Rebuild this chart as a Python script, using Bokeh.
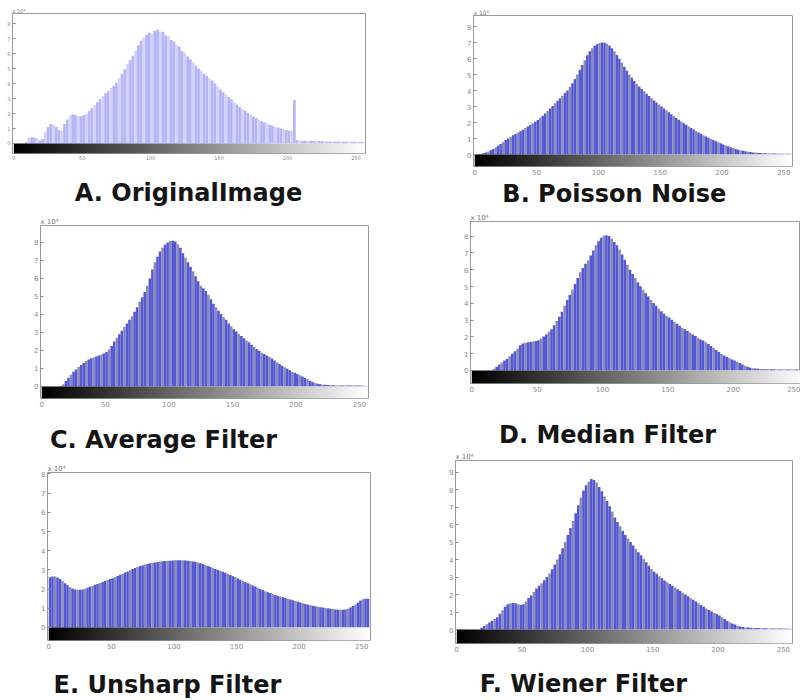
import numpy as np
from bokeh.plotting import figure
from bokeh.layouts import row, column
from bokeh.models import FixedTicker, Title, Range1d, LinearColorMapper
from bokeh.core.properties import value
from bokeh.embed import file_html
from bokeh.resources import INLINE

# ---- data: histogram counts (x 10^4) per pair of grey levels ----
gray_levels = list(range(1, 256, 2))      # bin centres, 2 grey levels per bin
x_ticks = [0, 50, 100, 150, 200, 250]
exp_label = "x 10\u2074"

cap_a = "A. OriginalImage"
cap_b = "B. Poisson  Noise"
cap_c = "C. Average Filter"
cap_d = "D. Median Filter"
cap_e = "E. Unsharp Filter"
cap_f = "F. Wiener Filter"

hist_a = [0, 0, 0, 0, 0.1, 0.4, 0.42, 0.38, 0.35, 0.2, 0.3, 0.75, 1.1, 1.3, 1.25, 1.1,
          0.9, 0.85, 1.3, 1.6, 1.85, 1.95, 1.9, 1.85, 1.82, 1.88, 1.97, 2.15, 2.35, 2.55, 2.75, 2.95,
          3.15, 3.35, 3.5, 3.7, 3.85, 4.05, 4.35, 4.65, 4.95, 5.3, 5.55, 5.85, 6.2, 6.55, 6.85, 7.05,
          7.25, 7.4, 7.3, 7.5, 7.6, 7.45, 7.45, 7.2, 7.15, 6.9, 6.8, 6.55, 6.45, 6.15, 6.05, 5.8,
          5.6, 5.4, 5.2, 5.0, 4.85, 4.65, 4.5, 4.35, 4.2, 4.0, 3.8, 3.6, 3.42, 3.25, 3.1, 2.95,
          2.75, 2.6, 2.45, 2.3, 2.18, 2.05, 1.92, 1.8, 1.7, 1.6, 1.5, 1.42, 1.33, 1.25, 1.18, 1.1,
          1.06, 1.0, 0.95, 0.9, 0.87, 0.85, 2.9, 0.22, 0.2, 0.19, 0.18, 0.18, 0.17, 0.17, 0.16, 0.16,
          0.15, 0.15, 0.14, 0.14, 0.14, 0.13, 0.13, 0.13, 0.12, 0.12, 0.12, 0.11, 0.11, 0.11, 0.1, 0.1]

hist_b = [0.02, 0.03, 0.05, 0.08, 0.12, 0.18, 0.26, 0.35, 0.45, 0.55, 0.66, 0.78, 0.9, 1.0, 1.1, 1.2,
          1.28, 1.37, 1.46, 1.55, 1.65, 1.75, 1.85, 1.95, 2.05, 2.15, 2.3, 2.43, 2.57, 2.72, 2.88, 3.04,
          3.2, 3.36, 3.52, 3.68, 3.84, 4.0, 4.22, 4.45, 4.72, 5.0, 5.3, 5.6, 5.9, 6.2, 6.45, 6.65,
          6.8, 6.9, 6.97, 7.0, 6.98, 6.92, 6.8, 6.65, 6.45, 6.22, 5.98, 5.73, 5.48, 5.24, 5.0, 4.8,
          4.6, 4.42, 4.25, 4.1, 3.95, 3.8, 3.65, 3.52, 3.38, 3.25, 3.12, 3.0, 2.88, 2.76, 2.64, 2.52,
          2.4, 2.3, 2.18, 2.07, 1.96, 1.86, 1.76, 1.66, 1.56, 1.47, 1.38, 1.29, 1.2, 1.12, 1.04, 0.97,
          0.9, 0.83, 0.76, 0.7, 0.63, 0.57, 0.51, 0.45, 0.4, 0.35, 0.3, 0.26, 0.23, 0.2, 0.17, 0.15,
          0.13, 0.12, 0.1, 0.09, 0.08, 0.08, 0.07, 0.07, 0.06, 0.06, 0.06, 0.05, 0.05, 0.05, 0.05, 0.05]

hist_c = [0, 0, 0, 0, 0, 0, 0, 0.03, 0.12, 0.3, 0.48, 0.65, 0.82, 0.95, 1.08, 1.2,
          1.3, 1.42, 1.5, 1.57, 1.62, 1.67, 1.72, 1.77, 1.83, 1.92, 2.05, 2.25, 2.5, 2.7, 2.9, 3.1,
          3.3, 3.5, 3.7, 3.9, 4.15, 4.4, 4.7, 4.95, 5.25, 5.6, 6.0, 6.5, 6.9, 7.2, 7.5, 7.7,
          7.88, 8.0, 8.08, 8.1, 8.05, 7.9, 7.7, 7.4, 7.15, 6.9, 6.65, 6.4, 6.12, 5.85, 5.6, 5.45,
          5.3, 5.1, 4.85, 4.6, 4.4, 4.2, 4.02, 3.85, 3.7, 3.5, 3.35, 3.18, 3.05, 2.92, 2.8, 2.68,
          2.55, 2.45, 2.32, 2.2, 2.08, 1.98, 1.88, 1.8, 1.72, 1.65, 1.55, 1.45, 1.35, 1.25, 1.15, 1.07,
          0.98, 0.9, 0.82, 0.76, 0.7, 0.63, 0.55, 0.47, 0.4, 0.32, 0.25, 0.19, 0.15, 0.12, 0.1, 0.09,
          0.08, 0.07, 0.07, 0.06, 0.06, 0.06, 0.05, 0.05, 0.05, 0.05, 0.05, 0.05, 0.05, 0.05, 0.04, 0.03]

hist_d = [0, 0, 0, 0, 0, 0, 0, 0, 0.1, 0.22, 0.35, 0.48, 0.6, 0.7, 0.85, 1.0,
          1.15, 1.3, 1.5, 1.6, 1.65, 1.68, 1.7, 1.73, 1.76, 1.8, 1.9, 2.02, 2.15, 2.3, 2.45, 2.7,
          2.95, 3.2, 3.5, 3.85, 4.2, 4.5, 4.8, 5.15, 5.5, 5.85, 6.1, 6.35, 6.55, 6.85, 7.15, 7.45,
          7.7, 7.9, 8.02, 8.05, 8.0, 7.85, 7.65, 7.45, 7.2, 6.9, 6.6, 6.3, 6.0, 5.75, 5.5, 5.25,
          5.02, 4.8, 4.6, 4.4, 4.2, 4.02, 3.85, 3.68, 3.52, 3.38, 3.25, 3.15, 3.02, 2.9, 2.78, 2.66,
          2.55, 2.45, 2.35, 2.25, 2.15, 2.05, 1.95, 1.85, 1.78, 1.68, 1.58, 1.46, 1.35, 1.22, 1.1, 0.98,
          0.9, 0.82, 0.74, 0.66, 0.6, 0.52, 0.44, 0.36, 0.28, 0.22, 0.17, 0.14, 0.12, 0.1, 0.09, 0.08,
          0.08, 0.07, 0.07, 0.07, 0.06, 0.06, 0.06, 0.06, 0.06, 0.06, 0.06, 0.06, 0.06, 0.05, 0.05, 0.04]

hist_e = [2.62, 2.65, 2.65, 2.6, 2.52, 2.42, 2.3, 2.2, 2.1, 2.03, 1.98, 1.96, 1.96, 1.98, 2.02, 2.07,
          2.12, 2.17, 2.22, 2.27, 2.32, 2.37, 2.42, 2.47, 2.52, 2.57, 2.62, 2.68, 2.74, 2.8, 2.86, 2.92,
          2.98, 3.04, 3.1, 3.15, 3.2, 3.24, 3.28, 3.31, 3.34, 3.37, 3.39, 3.41, 3.43, 3.45, 3.46, 3.47,
          3.48, 3.49, 3.5, 3.5, 3.5, 3.5, 3.49, 3.48, 3.46, 3.44, 3.42, 3.39, 3.35, 3.3, 3.25, 3.2,
          3.15, 3.1, 3.05, 3.0, 2.95, 2.9, 2.85, 2.79, 2.73, 2.67, 2.61, 2.55, 2.49, 2.43, 2.37, 2.31,
          2.25, 2.19, 2.13, 2.07, 2.01, 1.95, 1.89, 1.84, 1.79, 1.74, 1.69, 1.65, 1.61, 1.57, 1.53, 1.5,
          1.46, 1.42, 1.38, 1.34, 1.3, 1.26, 1.22, 1.19, 1.16, 1.13, 1.1, 1.08, 1.06, 1.04, 1.02, 1.0,
          0.98, 0.96, 0.94, 0.93, 0.92, 0.92, 0.94, 0.98, 1.04, 1.12, 1.2, 1.3, 1.4, 1.47, 1.5, 1.5]

hist_f = [0, 0, 0, 0, 0, 0, 0, 0, 0, 0.1, 0.2, 0.3, 0.4, 0.5, 0.6, 0.7,
          0.9, 1.1, 1.3, 1.45, 1.5, 1.52, 1.5, 1.45, 1.4, 1.45, 1.6, 1.8, 1.95, 2.15, 2.35, 2.5,
          2.65, 2.82, 3.0, 3.2, 3.45, 3.72, 4.0, 4.3, 4.65, 5.0, 5.4, 5.8, 6.2, 6.65, 7.1, 7.55,
          7.95, 8.25, 8.45, 8.6, 8.55, 8.4, 8.15, 7.9, 7.6, 7.35, 7.05, 6.75, 6.4, 6.15, 5.9, 5.65,
          5.4, 5.2, 5.0, 4.8, 4.6, 4.42, 4.25, 4.05, 3.85, 3.65, 3.45, 3.3, 3.18, 3.05, 2.93, 2.8,
          2.7, 2.6, 2.5, 2.4, 2.3, 2.2, 2.1, 2.0, 1.9, 1.8, 1.7, 1.6, 1.5, 1.4, 1.3, 1.2,
          1.12, 1.03, 0.95, 0.88, 0.8, 0.7, 0.6, 0.5, 0.42, 0.35, 0.28, 0.22, 0.17, 0.14, 0.12, 0.11,
          0.1, 0.09, 0.08, 0.08, 0.07, 0.07, 0.07, 0.06, 0.06, 0.06, 0.06, 0.06, 0.06, 0.06, 0.05, 0.05]

# grey ramp colours for the intensity bar under each histogram
GREYS = ["#%02x%02x%02x" % (v, v, v) for v in range(256)]
RAMP = np.array([list(range(256))], dtype=float)

LEFT_W = 445     # width of left column (px)
RIGHT_W = 355    # width of right column (px)
CAP_SIZE = "24px"


def panel(vals, yticks, ymax, grad, left, fw, right, top, fh, bottom,
          bar, stripe, lab_size="7px", exp_size="7px", xmax=257):
    p = figure(frame_width=fw, frame_height=fh,
               min_border_left=left, min_border_right=right,
               min_border_top=top, min_border_bottom=bottom,
               x_range=Range1d(-1, xmax), y_range=Range1d(-grad, ymax),
               output_backend="svg", toolbar_location=None, tools="", title=None)
    p.frame_align = False
    p.background_fill_color = "white"
    p.border_fill_color = "white"
    p.outline_line_color = "#9a9a9a"
    p.outline_line_width = 1
    p.xgrid.visible = False
    p.ygrid.visible = False

    colors = [stripe if i % 3 == 2 else bar for i in range(len(vals))]
    p.vbar(x=gray_levels[:len(vals)], top=vals, bottom=0, width=2,
           fill_color=colors, line_color=None)

    mapper = LinearColorMapper(palette=GREYS, low=0, high=255)
    p.image(image=[RAMP], x=0, y=-grad, dw=256, dh=grad, color_mapper=mapper)

    for ax in (p.xaxis[0], p.yaxis[0]):
        ax.axis_line_color = None
        ax.major_tick_line_color = "#8a8a8a"
        ax.major_tick_out = 0
        ax.minor_tick_line_color = None
        ax.major_label_text_color = "#8a8a8a"
        ax.major_label_text_font_size = lab_size
        ax.major_label_text_font = "DejaVu Sans"
        ax.major_label_standoff = 2
    p.xaxis.ticker = FixedTicker(ticks=x_ticks)
    p.xaxis.major_tick_in = 0
    p.yaxis.ticker = FixedTicker(ticks=yticks)
    p.yaxis.major_tick_in = 3

    p.add_layout(Title(text=exp_label, align="left", text_font_size=exp_size,
                       text_color="#777777", text_font_style="normal",
                       text_font="DejaVu Sans", standoff=0, offset=0), "above")
    return p


def caption_fig(text, w, h, cx, cy):
    c = figure(width=w, height=h, x_range=Range1d(0, w), y_range=Range1d(0, h),
               x_axis_type=None, y_axis_type=None, min_border=0,
               output_backend="svg", toolbar_location=None, tools="", title=None)
    c.frame_align = False
    c.outline_line_color = None
    c.background_fill_color = "white"
    c.border_fill_color = "white"
    c.grid.visible = False
    c.text(x=[cx], y=[cy], text=[text], text_font=value("DejaVu Sans"),
           text_font_size=CAP_SIZE, text_font_style="bold", text_color="#151515",
           text_align="center", text_baseline="middle")
    return c


BLUE, GREYBLUE = "#5457d6", "#8a8bb2"
LAV, LAV2 = "#b5b5f7", "#d3d3fa"
Y8 = [0, 1, 2, 3, 4, 5, 6, 7, 8]
Y9 = [0, 1, 2, 3, 4, 5, 6, 7, 8, 9]

# left column  (heights: 164 + 51 + 194 + 53 + 189 + 49 = 700)
pa = panel(hist_a, Y8, 8.67, 0.667, 12, 353, 80, 13, 140, 11,
           LAV, LAV2, lab_size="5px", exp_size="5px")
ca = caption_fig(cap_a, LEFT_W, 51, 188, 23)
pc = panel(hist_c, Y8, 8.94, 0.667, 40, 328, 77, 10, 173, 11, BLUE, GREYBLUE)
cc = caption_fig(cap_c, LEFT_W, 53, 163, 23)
pe = panel(hist_e, Y8, 8.07, 0.677, 47, 323, 75, 10, 168, 11, BLUE, GREYBLUE)
ce = caption_fig(cap_e, LEFT_W, 49, 167, 16)

# right column (heights: 177 + 34 + 183 + 56 + 204 + 46 = 700)
pb = panel(hist_b, Y8, 8.69, 0.75, 28, 319, 8, 15, 151, 11,
           BLUE, GREYBLUE, exp_size="6px")
cb = caption_fig(cap_b, RIGHT_W, 34, 173, 18)
pd = panel(hist_d, Y8, 8.87, 0.774, 25, 330, 0, 10, 162, 11, BLUE, GREYBLUE,
           xmax=251.5)
cd = caption_fig(cap_d, RIGHT_W, 56, 162, 16)
pf = panel(hist_f, Y9, 9.66, 0.8, 10, 337, 8, 10, 183, 11, BLUE, GREYBLUE)
cf = caption_fig(cap_f, RIGHT_W, 46, 138, 17)

layout = row(column(pa, ca, pc, cc, pe, ce), column(pb, cb, pd, cd, pf, cf))

with open("out.html", "w") as fh_:
    fh_.write(file_html(layout, INLINE))
